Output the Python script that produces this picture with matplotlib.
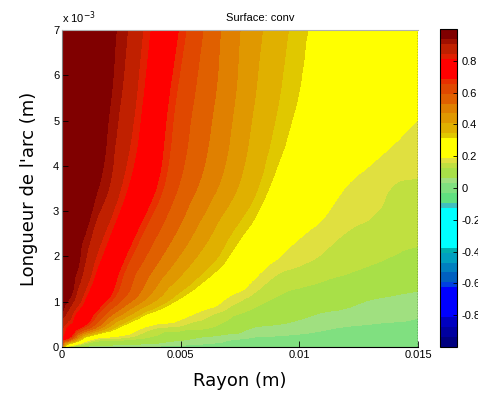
import numpy as np
import matplotlib
matplotlib.use("Agg")
import matplotlib.pyplot as plt
import matplotlib.tri as mtri
from matplotlib.colors import ListedColormap, Normalize
from matplotlib.cm import ScalarMappable
from matplotlib.ticker import FuncFormatter

# grille (mm)
r_mm = [0, 0.25, 0.5, 0.75, 1, 1.5, 2, 2.5, 3, 3.5, 4, 5, 6, 7, 8, 9, 10, 11, 12, 13, 14, 15]
z_mm = [0, 0.2, 0.42, 0.75, 1.08, 1.63, 2.47, 3.58, 5.28, 7.0]

# valeurs de conv, une ligne par hauteur z
conv = [
    [0.50, 0.15, 0.08, 0.06, 0.05, 0.04, 0.035, 0.03, 0.028, 0.026, 0.025, 0.023, 0.021, 0.019, 0.017, 0.015, 0.013, 0.011, 0.009, 0.008, 0.006, 0.005],
    [0.78, 0.70, 0.56, 0.406, 0.282, 0.188, 0.172, 0.156, 0.14, 0.125, 0.11, 0.078, 0.055, 0.039, 0.03, 0.027, 0.024, 0.021, 0.018, 0.016, 0.013, 0.01],
    [0.85, 0.791, 0.741, 0.69, 0.631, 0.506, 0.381, 0.288, 0.225, 0.179, 0.156, 0.143, 0.13, 0.10, 0.062, 0.053, 0.044, 0.035, 0.029, 0.026, 0.024, 0.022],
    [0.937, 0.894, 0.83, 0.783, 0.745, 0.665, 0.567, 0.485, 0.406, 0.331, 0.289, 0.221, 0.172, 0.141, 0.115, 0.096, 0.077, 0.061, 0.054, 0.048, 0.042, 0.036],
    [0.96, 0.944, 0.915, 0.864, 0.81, 0.747, 0.683, 0.609, 0.543, 0.479, 0.415, 0.312, 0.247, 0.184, 0.148, 0.123, 0.108, 0.094, 0.08, 0.065, 0.058, 0.052],
    [0.98, 0.963, 0.946, 0.923, 0.885, 0.80, 0.737, 0.671, 0.606, 0.555, 0.505, 0.414, 0.337, 0.277, 0.206, 0.16, 0.147, 0.137, 0.126, 0.115, 0.104, 0.092],
    [0.99, 0.976, 0.963, 0.949, 0.934, 0.874, 0.815, 0.756, 0.697, 0.642, 0.594, 0.51, 0.428, 0.35, 0.292, 0.242, 0.192, 0.17, 0.154, 0.148, 0.141, 0.135],
    [1.0, 0.99, 0.98, 0.97, 0.961, 0.941, 0.907, 0.845, 0.792, 0.74, 0.688, 0.587, 0.513, 0.44, 0.365, 0.30, 0.261, 0.224, 0.188, 0.171, 0.156, 0.153],
    [1.0, 0.992, 0.984, 0.977, 0.969, 0.953, 0.938, 0.90, 0.852, 0.796, 0.736, 0.632, 0.559, 0.487, 0.411, 0.348, 0.307, 0.285, 0.262, 0.24, 0.217, 0.195],
    [1.0, 0.993, 0.987, 0.98, 0.973, 0.96, 0.947, 0.927, 0.884, 0.835, 0.782, 0.678, 0.589, 0.506, 0.435, 0.374, 0.323, 0.301, 0.286, 0.27, 0.255, 0.24],
]

# palette de la barre de couleur (de -1 vers 1), nb de cases sur 64
pal_colors = ["#000080", "#0000a0", "#0000c0", "#0000ff", "#0040e0", "#0060c0", "#0080c0",
              "#00a0c0", "#00b0b0", "#00ffff", "#40c0c0", "#60e080", "#80e080", "#a0e080",
              "#a8e048", "#c0e040", "#e0e040", "#ffff00", "#e0c800", "#e0b000", "#e09800",
              "#e08000", "#e06000", "#e04800", "#e83000", "#ff0000", "#e02000", "#c02000",
              "#a01000", "#800000"]
pal_counts = [2, 2, 2, 6, 1, 2, 2, 2, 1, 8, 1, 2, 2, 1, 2, 1, 1, 4, 1, 2, 2, 2, 2, 2, 1, 4, 1, 2, 1, 2]

x_ticks = [0, 0.005, 0.01, 0.015]
y_ticks = [0, 1e-3, 2e-3, 3e-3, 4e-3, 5e-3, 6e-3, 7e-3]
cb_ticks = [-0.8, -0.6, -0.4, -0.2, 0, 0.2, 0.4, 0.6, 0.8]

cmap = ListedColormap([c for c, n in zip(pal_colors, pal_counts) for _ in range(n)])
cmap.set_over(pal_colors[-1])
cmap.set_under(pal_colors[0])
norm = Normalize(-1, 1)

R, Z = np.meshgrid(np.array(r_mm) * 1e-3, np.array(z_mm) * 1e-3)
C = np.array(conv)

# lissage des isovaleurs par matplotlib (raffinement de la triangulation)
tri = mtri.Triangulation(R.ravel(), Z.ravel())
interp = mtri.CubicTriInterpolator(tri, C.ravel(), kind="geom")
tri_f, c_f = mtri.UniformTriRefiner(tri).refine_field(C.ravel(), triinterpolator=interp, subdiv=3)

fig = plt.figure(figsize=(4.78, 3.99), dpi=100)
ax = fig.add_axes([62 / 478, 52 / 399, 356 / 478, 317 / 399])
ax.tricontourf(tri_f, c_f, levels=np.linspace(-1, 1, 65), cmap=cmap, norm=norm, extend="both")
ax.set_xlim(0, 0.015)
ax.set_ylim(0, 0.007)

tick_font = dict(family="Liberation Sans", size=8)
ax.set_xticks(x_ticks)
ax.set_yticks(y_ticks)
ax.xaxis.set_major_formatter(FuncFormatter(lambda v, p: "%g" % round(v, 6)))
ax.yaxis.set_major_formatter(FuncFormatter(lambda v, p: "%g" % round(v * 1e3, 6)))
ax.tick_params(direction="in", length=4, width=0.6, pad=2, labelsize=8)
for lab in ax.get_xticklabels() + ax.get_yticklabels():
    lab.set_family("Liberation Sans")

ax.spines["top"].set_color("#b0b0b0")
ax.spines["left"].set_color("#808080")
ax.spines["bottom"].set_color("black")
ax.spines["right"].set_visible(False)
ax.axvline(0.015, color="black", lw=1.0, ls=(0, (1, 1)))

ax.text(0.0, 1.012, "x 10$^{-3}$", transform=ax.transAxes, ha="left", va="bottom", **tick_font)
fig.text(260 / 478, 381 / 399, "Surface: conv", ha="center", va="center", **tick_font)
ax.set_xlabel("Rayon (m)", fontsize=13, family="DejaVu Sans", labelpad=9)
ax.set_ylabel("Longueur de l'arc (m)", fontsize=13, family="DejaVu Sans", labelpad=11)

cax = fig.add_axes([440 / 478, 52 / 399, 17 / 478, 318 / 399])
cb = fig.colorbar(ScalarMappable(norm=norm, cmap=cmap), cax=cax, ticks=cb_ticks)
cb.ax.yaxis.set_major_formatter(FuncFormatter(lambda v, p: "%g" % round(v, 3)))
cb.ax.tick_params(direction="in", length=3, width=0.6, pad=3, labelsize=8)
for lab in cb.ax.get_yticklabels():
    lab.set_family("Liberation Sans")
cb.outline.set_linewidth(0.8)

fig.savefig("out.png", dpi=100)
